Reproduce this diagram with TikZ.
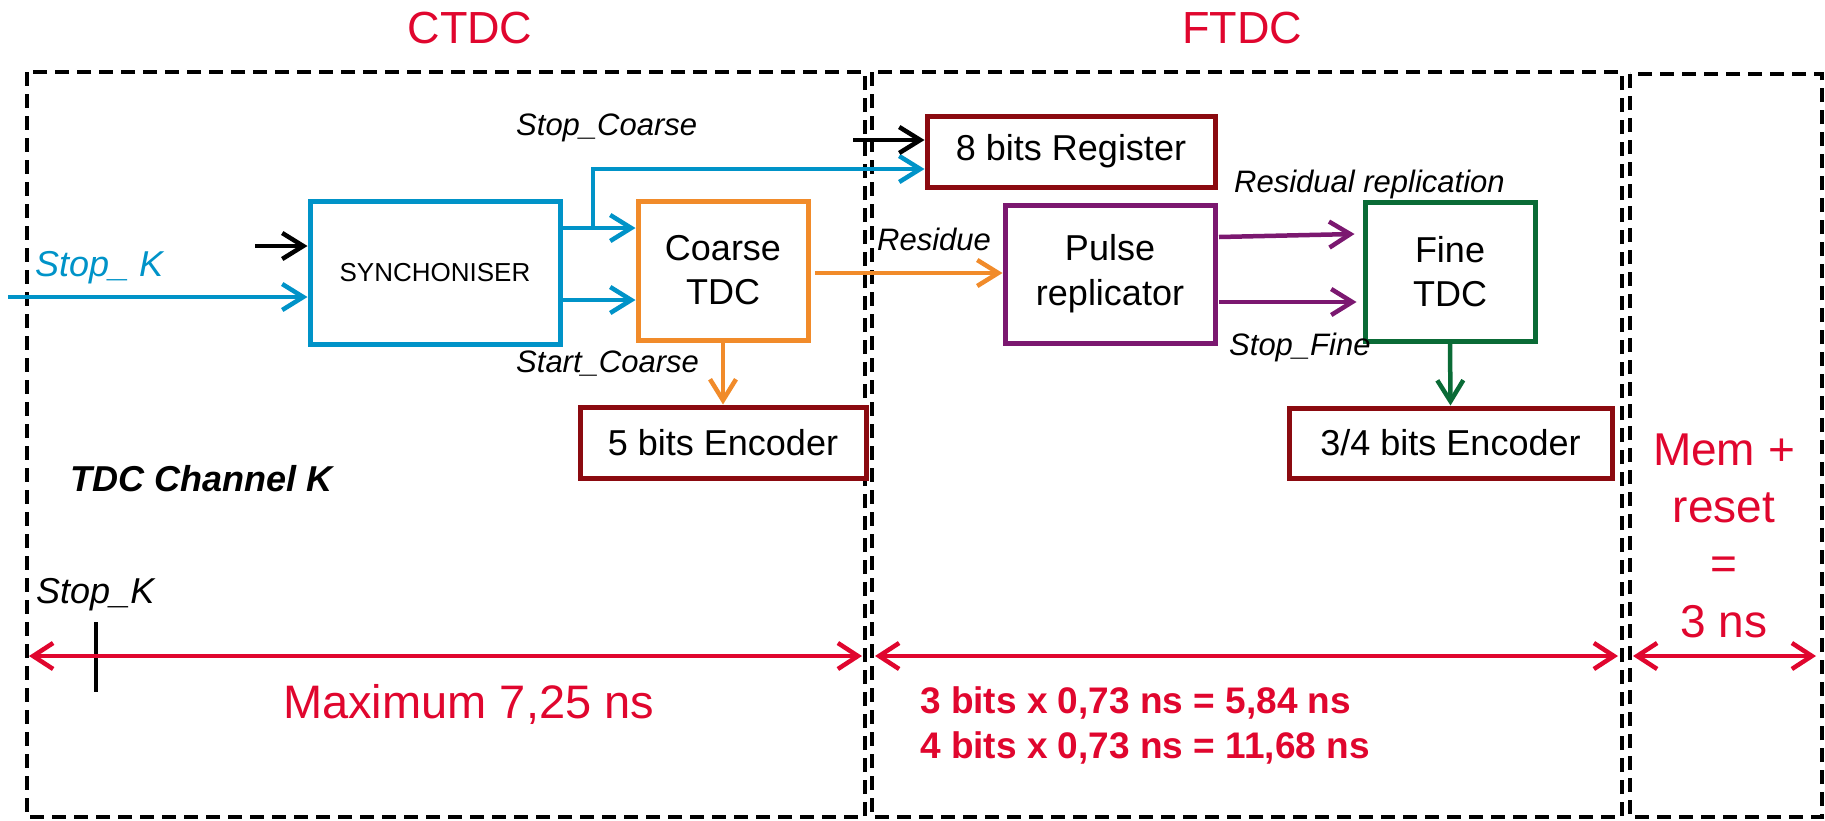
\documentclass[tikz,border=0pt]{standalone}
\usepackage{fontspec}
\setmainfont{Liberation Sans}
\usetikzlibrary{arrows.meta,calc}
\definecolor{cblue}{RGB}{0,147,200}
\definecolor{corange}{RGB}{241,139,42}
\definecolor{cdred}{RGB}{139,10,16}
\definecolor{cpurple}{RGB}{123,24,112}
\definecolor{cgreen}{RGB}{10,107,54}
\definecolor{cred}{RGB}{224,6,46}
\begin{document}
\begin{tikzpicture}[x=1pt,y=-1pt,
  box/.style={draw, line width=5pt, fill=white, inner sep=0pt, align=center,
    font=\fontsize{36}{44}\selectfont},
  arr/.style={line width=4.5pt, -{Straight Barb[length=21pt,width=26pt]}},
  darr/.style={line width=4.5pt, cred, {Straight Barb[length=20pt,width=26pt]}-{Straight Barb[length=20pt,width=26pt]}},
  dbox/.style={draw, line width=4.2pt, dash pattern=on 14pt off 8pt},
  lab/.style={font=\fontsize{31}{36}\selectfont\itshape, inner sep=0pt, anchor=base west},
  redbig/.style={font=\fontsize{46}{57}\selectfont, text=cred, inner sep=0pt, anchor=base},
  redbold/.style={font=\fontsize{37}{45}\selectfont\bfseries, text=cred, inner sep=0pt, anchor=base west},
]
\useasboundingbox (0,0) rectangle (1825,820);

% dashed frames
\draw[dbox] (27,72) rectangle (865,817);
\draw[dbox] (872,72) rectangle (1622,817);
\draw[dbox] (1630,74) rectangle (1822,817);

% titles
\node[redbig, font=\fontsize{45}{54}\selectfont] (tctdc) at (470,43) {CTDC};
\node[redbig, font=\fontsize{45}{54}\selectfont] (tftdc) at (1242,43) {FTDC};

% blocks
\node[box, draw=cblue, minimum width=250pt, minimum height=143pt,
  font=\fontsize{26}{30}\selectfont] (sync) at (435,272.5) {SYNCHONISER};
\node[box, draw=corange, minimum width=170pt, minimum height=139pt] (coarse) at (723,270.5) {Coarse\\TDC};
\node[box, draw=cdred, minimum width=286pt, minimum height=71pt] (enc5) at (723,442.5) {5 bits Encoder};
\node[box, draw=cdred, minimum width=288pt, minimum height=71pt] (reg) at (1071,151.5) {8 bits Register};
\node[box, draw=cpurple, minimum width=210pt, minimum height=138pt, font=\fontsize{36}{45}\selectfont] (pulse) at (1110,274) {Pulse\\replicator};
\node[box, draw=cgreen, minimum width=170pt, minimum height=139pt] (fine) at (1450,271.5) {Fine\\TDC};
\node[box, draw=cdred, minimum width=323pt, minimum height=70pt] (enc34) at (1450.5,443) {3/4 bits Encoder};

% input connectors
\coordinate (kin) at (8,297);
\coordinate (clkA) at (255,246);
\coordinate (clkB) at (853,140);
\coordinate (s1) at (560,228);
\coordinate (s2) at (560,300);
\coordinate (br) at (593,228);
\coordinate (res) at (815,273);
\coordinate (p1) at (1219,237);
\coordinate (p2) at (1219,302);

\draw[arr, cblue] (kin) -- (kin -| sync.west);
\draw[arr, black] (clkA) -- (clkA -| sync.west);
\draw[arr, cblue] (s1) -- (s1 -| coarse.west);
\draw[arr, cblue] (s2) -- (s2 -| coarse.west);
\draw[arr, cblue] (br) |- ($(reg.west)+(0,17.5)$);
\draw[arr, black] (clkB) -- (clkB -| reg.west);
\draw[arr, corange] (coarse.south) -- (enc5.north);
\draw[arr, corange] (res) -- (res -| pulse.west);
\draw[arr, cpurple] (p1) -- ($(fine.west)+(-8,-37.5)$);
\draw[arr, cpurple] (p2) -- ($(p2 -| fine.west)+(-6,0)$);
\draw[arr, cgreen] (fine.south) -- (enc34.north);

% signal labels
\node[lab] (lsc) at (516,135) {Stop\_Coarse};
\node[lab] (lstc) at (516,372) {Start\_Coarse};
\node[lab] (lres) at (877,250) {Residue};
\node[lab] (lrr) at (1234,192) {Residual replication};
\node[lab] (lsf) at (1229,355) {Stop\_Fine};
\node[lab, font=\fontsize{36}{42}\selectfont\itshape, text=cblue] (lsk) at (35,276) {Stop\_ K};
\node[lab, font=\fontsize{36}{42}\selectfont\bfseries\itshape] (lch) at (70,491) {TDC Channel K};
\node[lab, font=\fontsize{36}{42}\selectfont\itshape] (lsk2) at (36,603) {Stop\_K};

% timeline
\coordinate (t1) at (96,622);
\coordinate (t2) at (96,692);
\draw[line width=3.5pt, black] (t1) -- (t2);
\coordinate (a1) at (29,656);
\coordinate (a2) at (862,656);
\coordinate (b1) at (875,656);
\coordinate (b2) at (1618,656);
\coordinate (c1) at (1633,656);
\coordinate (c2) at (1816,656);
\draw[darr] (a1) -- (a2);
\draw[darr] (b1) -- (b2);
\draw[darr] (c1) -- (c2);

\node[redbig, anchor=base west, font=\fontsize{47}{56}\selectfont] (lmax) at (283,718) {Maximum 7,25 ns};
\node[redbold] (l3b) at (920,713) {3 bits x 0,73 ns = 5,84 ns};
\node[redbold] (l4b) at (920,758) {4 bits x 0,73 ns = 11,68 ns};

\node[redbig] (m1) at (1724,465) {Mem +};
\node[redbig] (m2) at (1724,522) {reset};
\node[redbig] (m3) at (1724,579) {=};
\node[redbig] (m4) at (1724,637) {3 ns};
\end{tikzpicture}
\end{document}
